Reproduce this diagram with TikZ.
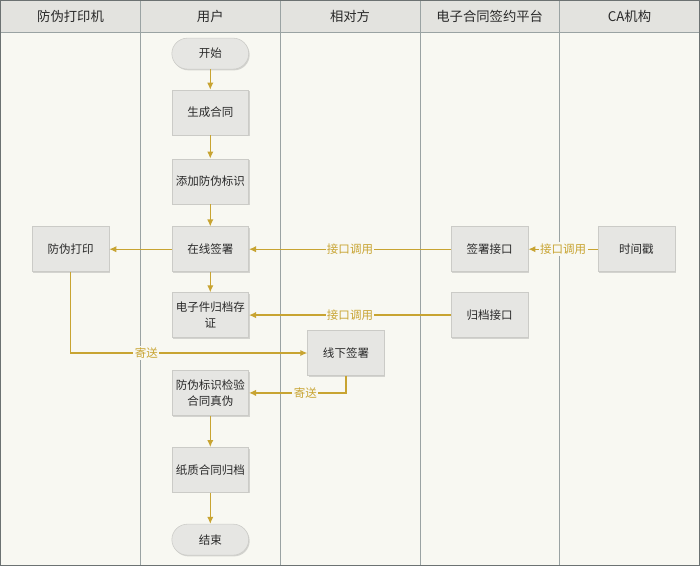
\documentclass[tikz,border=0pt]{standalone}
\usepackage{fontspec}
\setmainfont{Noto Sans CJK SC}
\usetikzlibrary{arrows.meta,shadows}
\definecolor{flow}{HTML}{C8A432}
\definecolor{boxfill}{HTML}{E6E6E3}
\definecolor{boxline}{HTML}{CBCBC7}
\definecolor{lanebg}{HTML}{F8F8F2}
\definecolor{headbg}{HTML}{E3E3DF}
\definecolor{laneline}{HTML}{9AA3A3}
\definecolor{ink}{HTML}{2A2A2A}

\begin{document}
\begin{tikzpicture}[x=0.025cm,y=-0.025cm,>=Latex,font=\fontsize{8.2}{11}\selectfont,
  proc/.style={draw=boxline,fill=boxfill,text=ink,minimum width=1.925cm,minimum height=1.125cm,
    align=center,inner sep=2pt,drop shadow={opacity=0.3,shadow xshift=0.7pt,shadow yshift=-0.9pt}},
  term/.style={proc,rounded corners=0.39cm,minimum height=0.775cm},
  flowline/.style={draw=flow,line width=0.85pt,-{Latex[length=5pt,width=4.5pt]}},
  tag/.style={fill=lanebg,text=flow,inner sep=1pt},
  lanehead/.style={text=ink,font=\fontsize{9.5}{12}\selectfont}]
  % lanes
  \fill[lanebg] (0,0) rectangle (700,566);
  \fill[headbg] (0,0) rectangle (700,32);
  \foreach \x in {140,280,420,560} \draw[laneline] (\x,0) -- (\x,566);
  \draw[laneline] (0,32) -- (700,32);
  \draw[laneline!70!black,line width=1pt] (0,0) rectangle (700,566);
  \foreach \name [count=\i] in {防伪打印机,用户,相对方,电子合同签约平台,CA机构}
    \node[lanehead] (head\i) at ({(\i-1)*140+70},16) {\name};

  % user lane
  \node[term] (start) at (210,53) {开始};
  \node[proc] (gen) at (210,112) {生成合同};
  \node[proc] (mark) at (210,181) {添加防伪标识};
  \node[proc] (sign) at (210,249) {在线签署};
  \node[proc] (archive) at (210,315) {电子件归档存\\证};
  \node[proc] (verify) at (210,393) {防伪标识检验\\合同真伪};
  \node[proc] (paper) at (210,470) {纸质合同归档};
  \node[term] (stop) at (210,540) {结束};
  % other lanes
  \node[proc] (print) at (70,249) {防伪打印};
  \node[proc] (offline) at (346,353) {线下签署};
  \node[proc] (signapi) at (490,249) {签署接口};
  \node[proc] (archapi) at (490,315) {归档接口};
  \node[proc] (stamp) at (637,249) {时间戳};

  \draw[flowline] (start) -- (gen);
  \draw[flowline] (gen) -- (mark);
  \draw[flowline] (mark) -- (sign);
  \draw[flowline] (sign) -- (archive);
  \draw[flowline] (verify) -- (paper);
  \draw[flowline] (paper) -- (stop);
  \draw[flowline] (sign) -- (print);
  \draw[flowline] (signapi) -- node[tag] {接口调用} (sign);
  \draw[flowline] (stamp) -- node[tag] {接口调用} (signapi);
  \draw[flowline] (archapi) -- node[tag] {接口调用} (archive);
  \draw[flowline] (print.south) |- node[tag,pos=0.66] {寄送} (offline.west);
  \draw[flowline] (offline.south) |- node[tag,pos=0.71] {寄送} (verify.east);
\end{tikzpicture}
\end{document}
